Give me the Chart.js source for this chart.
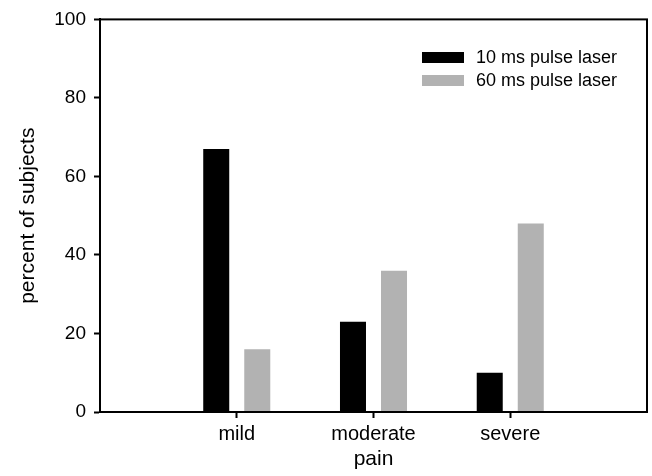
<!DOCTYPE html>
<html>
<head>
<meta charset="utf-8">
<script src="https://cdn.jsdelivr.net/npm/chart.js@4/dist/chart.umd.min.js"></script>
<style>
    body { margin: 0; background: #fff; }
    #wrap { position: relative; width: 652px; height: 476px; }
    .legend { position: absolute; left: 422px; top: 46px; font: 18px "Liberation Sans", Arial, sans-serif; color: #000; }
    .legend-row { display: flex; align-items: center; height: 23px; white-space: nowrap; }
    .swatch { width: 42px; height: 11px; margin-right: 12px; }
</style>
</head>
<body>
<div id="wrap">
    <canvas id="painChart" width="652" height="476"></canvas>
    <div class="legend" id="legend"></div>
</div>
<script>
// categories (empty slots pad the axis on both sides)
const categories = ['', 'mild', 'moderate', 'severe', ''];
const seriesNames = ['10 ms pulse laser', '60 ms pulse laser'];
const tenMs   = [null, 67, 23, 10, null];
const sixtyMs = [null, 16, 36, 48, null];
const yTicks  = [0, 20, 40, 60, 80, 100];
const colors  = ['#000000', '#b2b2b2'];

const FONT = '"Liberation Sans", Arial, sans-serif';
const INK = '#000';

// box round the plot area
const framePlugin = {
    id: 'frame',
    afterDatasetsDraw(chart) {
        const { ctx, chartArea: a } = chart;
        ctx.save();
        ctx.strokeStyle = '#000';
        ctx.lineWidth = 2;
        ctx.strokeRect(a.left, a.top, a.right - a.left, a.bottom - a.top);
        ctx.restore();
    }
};

const hideEdge = ctx => (ctx.index === 0 || ctx.index === categories.length - 1) ? 'rgba(0,0,0,0)' : '#000';

new Chart(document.getElementById('painChart').getContext('2d'), {
    type: 'bar',
    data: {
        labels: categories,
        datasets: [
            { label: seriesNames[0], data: tenMs,   backgroundColor: colors[0] },
            { label: seriesNames[1], data: sixtyMs, backgroundColor: colors[1] }
        ]
    },
    options: {
        responsive: false,
        animation: false,
        devicePixelRatio: 1,
        categoryPercentage: 0.6,
        barPercentage: 0.634,
        layout: { padding: { top: 19, right: 5, left: 0, bottom: 0 } },
        plugins: {
            legend: { display: false },
            tooltip: { enabled: false }
        },
        scales: {
            x: {
                offset: false,
                grid: { offset: false, drawOnChartArea: false, tickLength: 6, tickWidth: 2, tickColor: hideEdge },
                border: { color: '#000', width: 2 },
                ticks: { color: INK, font: { family: FONT, size: 20 }, padding: 4, maxRotation: 0, autoSkip: false },
                title: { display: true, text: 'pain', color: INK, font: { family: FONT, size: 21 }, padding: { top: 0, bottom: 4 } },
                afterFit: s => { s.height = 64; }
            },
            y: {
                min: 0,
                max: 100,
                afterBuildTicks: s => { s.ticks = yTicks.map(v => ({ value: v })); },
                grid: { drawOnChartArea: false, tickLength: 6, tickWidth: 2, tickColor: '#000' },
                border: { color: '#000', width: 2 },
                ticks: { color: INK, font: { family: FONT, size: 19 }, padding: 8 },
                title: { display: true, text: 'percent of subjects', color: INK, font: { family: FONT, size: 21 }, padding: { top: 16, bottom: 0 } },
                afterFit: s => { s.width = 100; }
            }
        }
    },
    plugins: [framePlugin]
});

document.getElementById('legend').innerHTML = seriesNames.map((name, i) => `
    <div class="legend-row">
        <div class="swatch" style="background:${colors[i]}"></div>
        <span>${name}</span>
    </div>`).join('');
</script>
</body>
</html>
